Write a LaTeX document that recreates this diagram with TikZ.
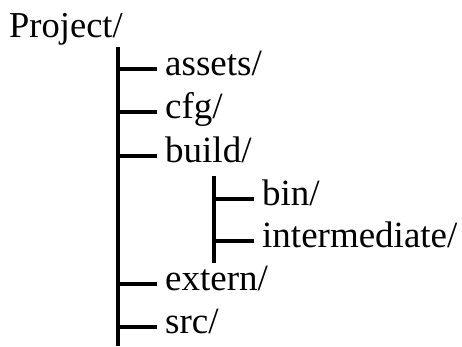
\documentclass[tikz,border=0pt]{standalone}
\usepackage{fontspec}
\setmainfont{Liberation Serif}
\begin{document}
\begin{tikzpicture}[x=1pt,y=-1pt,
  item/.style={inner xsep=8pt,inner ysep=0pt,text height=22pt,text depth=10pt,anchor=west,font=\fontsize{37}{44}\selectfont},
  treeline/.style={line width=3.5pt,black}]
\useasboundingbox (0,0) rectangle (462,346);
\node[font=\fontsize{36.5}{44}\selectfont,anchor=base west,inner sep=0pt] (project) at (9,37) {Project/};
\coordinate (top) at (118,47);
\coordinate (bot) at (118,346);
\coordinate (btop) at (214,176);
\coordinate (bbot) at (214,263);
\node[item] (assets) at (157,69) {assets/};
\node[item] (cfg) at (157,112) {cfg/};
\node[item] (build) at (157,156) {build/};
\node[item] (bin) at (254,199) {bin/};
\node[item] (inter) at (254,241) {intermediate/};
\node[item] (extern) at (157,284) {extern/};
\node[item] (src) at (157,327) {src/};
\draw[treeline] (top) -- (bot);
\draw[treeline] (btop) -- (bbot);
\foreach \n in {assets,cfg,build,extern,src}
  \draw[treeline] (\n.west) -- (\n.west -| top);
\foreach \n in {bin,inter}
  \draw[treeline] (\n.west) -- (\n.west -| btop);
\end{tikzpicture}
\end{document}
